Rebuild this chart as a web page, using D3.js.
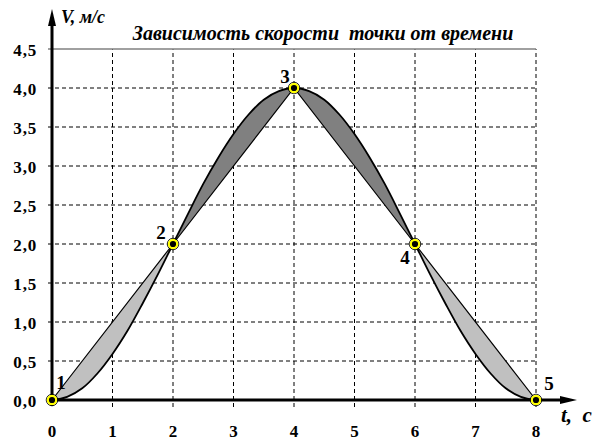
<!DOCTYPE html>
<html>
<head>
<meta charset="utf-8">
<script src="https://cdn.jsdelivr.net/npm/d3@7"></script>
<style>
  body { margin: 0; background: #fff; }
  #graf { position: relative; width: 603px; height: 447px; }
  .rotulo { position: absolute; font-family: 'Liberation Serif', serif; font-weight: bold;
            font-style: italic; white-space: pre; line-height: 1; }
</style>
</head>
<body>
<div id="graf"></div>
<script>
// I. Datos
tiempos   = [0, 0.25, 0.5, 0.75, 1, 1.25, 1.5, 1.75, 2, 2.25, 2.5, 2.75, 3, 3.25, 3.5, 3.75, 4,
             4.25, 4.5, 4.75, 5, 5.25, 5.5, 5.75, 6, 6.25, 6.5, 6.75, 7, 7.25, 7.5, 7.75, 8]
velocidad = [0, 0.04, 0.15, 0.34, 0.59, 0.89, 1.24, 1.61, 2, 2.39, 2.77, 3.11, 3.41, 3.66, 3.85, 3.96, 4,
             3.96, 3.85, 3.66, 3.41, 3.11, 2.77, 2.39, 2, 1.61, 1.24, 0.89, 0.59, 0.34, 0.15, 0.04, 0]
puntosT   = [0, 2, 4, 6, 8]
puntosV   = [0, 2, 4, 2, 0]
etiquetas = ['1', '2', '3', '4', '5']
ticksX    = [0, 1, 2, 3, 4, 5, 6, 7, 8]
ticksY    = [0, 0.5, 1, 1.5, 2, 2.5, 3, 3.5, 4, 4.5]
rellenos  = ['#c0c0c0', '#808080', '#808080', '#c0c0c0']

fuente = 'Liberation Serif'

// II. Configuración
ancho_total = 603
alto_total = 447

graf = d3.select('#graf')
svg = graf.append('svg')
        .attr('width', ancho_total)
        .attr('height', alto_total)

x = d3.scaleLinear().domain([0, 8]).range([52, 536])
y = d3.scaleLinear().domain([0, 4.5]).range([400, 49])

function texto(sel, tam, cursiva) {
  return sel.attr('font-family', fuente)
            .attr('font-weight', 'bold')
            .attr('font-style', cursiva ? 'italic' : 'normal')
            .attr('font-size', tam)
}

// III. Rejilla
svg.selectAll('.vgrid')
   .data(ticksX.slice(1))
   .enter().append('line')
     .attr('x1', d => x(d)).attr('x2', d => x(d))
     .attr('y1', y(0) + 7).attr('y2', y(4.5))
     .attr('stroke', '#000').attr('stroke-width', 1)
     .attr('stroke-dasharray', '4,3')

svg.selectAll('.hgrid')
   .data(ticksY.slice(1, -1))
   .enter().append('line')
     .attr('x1', x(0) - 4).attr('x2', x(8))
     .attr('y1', d => y(d)).attr('y2', d => y(d))
     .attr('stroke', '#000').attr('stroke-width', 1)
     .attr('stroke-dasharray', '4,3')

svg.append('line')
   .attr('x1', x(0) - 4).attr('x2', x(8))
   .attr('y1', y(4.5)).attr('y2', y(4.5))
   .attr('stroke', '#808080').attr('stroke-width', 1.5)

// IV. Zonas entre cuerda y curva
datos = tiempos.map((t, i) => ({ t: t, v: velocidad[i] }))
curva = d3.line().x(d => x(d.t)).y(d => y(d.v)).curve(d3.curveCatmullRom)

rellenos.forEach((c, i) => {
  tramo = datos.filter(d => d.t >= puntosT[i] && d.t <= puntosT[i + 1])
  svg.append('path')
     .attr('d', curva(tramo) + 'Z')
     .attr('fill', c)
     .attr('stroke', 'none')
})

// cuerdas
cuerda = d3.line().x((d, i) => x(d)).y((d, i) => y(puntosV[i]))
svg.append('path')
   .attr('d', cuerda(puntosT))
   .attr('fill', 'none')
   .attr('stroke', '#000')
   .attr('stroke-width', 1.2)

// curva de velocidad
svg.append('path')
   .attr('d', curva(datos))
   .attr('fill', 'none')
   .attr('stroke', '#000')
   .attr('stroke-width', 1.8)

// V. Ejes
svg.append('line')
   .attr('x1', x(0)).attr('x2', x(0))
   .attr('y1', y(0) + 6).attr('y2', 22)
   .attr('stroke', '#000').attr('stroke-width', 3)
svg.append('path')
   .attr('d', `M${x(0)},9 L${x(0) - 4},26 L${x(0) + 4},26 Z`)
   .attr('fill', '#000')

svg.append('line')
   .attr('x1', x(0)).attr('x2', 564)
   .attr('y1', y(0)).attr('y2', y(0))
   .attr('stroke', '#000').attr('stroke-width', 3)
svg.append('path')
   .attr('d', `M577,${y(0)} L560,${y(0) - 4} L560,${y(0) + 4} Z`)
   .attr('fill', '#000')

svg.selectAll('.ylab')
   .data(ticksY)
   .enter().append('text')
     .attr('x', 37)
     .attr('y', d => y(d) + 6.5)
     .attr('text-anchor', 'end')
     .call(texto, 17)
     .attr('letter-spacing', 0.8)
     .text(d => d3.format('.1f')(d).replace('.', ','))

svg.selectAll('.xlab')
   .data(ticksX)
   .enter().append('text')
     .attr('x', d => x(d))
     .attr('y', 437)
     .attr('text-anchor', 'middle')
     .call(texto, 17)
     .text(d => d)

// VI. Puntos
svg.selectAll('.pto')
   .data(puntosT)
   .enter().append('circle')
     .attr('cx', d => x(d))
     .attr('cy', (d, i) => y(puntosV[i]))
     .attr('r', 4.2)
     .attr('fill', '#000')
     .attr('stroke', '#ffff00')
     .attr('stroke-width', 2.2)

svg.selectAll('.anillo')
   .data(puntosT)
   .enter().append('circle')
     .attr('cx', d => x(d))
     .attr('cy', (d, i) => y(puntosV[i]))
     .attr('r', 5.8)
     .attr('fill', 'none')
     .attr('stroke', '#000')
     .attr('stroke-width', 0.8)

desplaz = [[9, -11], [-12, -5], [-9, -5], [-10, 20], [13, -10]]
svg.selectAll('.etq')
   .data(etiquetas)
   .enter().append('text')
     .attr('x', (d, i) => x(puntosT[i]) + desplaz[i][0])
     .attr('y', (d, i) => y(puntosV[i]) + desplaz[i][1])
     .attr('text-anchor', 'middle')
     .call(texto, 19)
     .text(d => d)

// VII. Títulos (en HTML, encima del svg)
graf.append('div')
    .attr('class', 'rotulo')
    .style('left', '0px').style('width', '646px')
    .style('text-align', 'center')
    .style('top', '23px')
    .style('font-size', '20px')
    .text('Зависимость скорости  точки от времени')

graf.append('div')
    .attr('class', 'rotulo')
    .style('left', '61px')
    .style('top', '8px')
    .style('font-size', '18px')
    .text('V, м/с')

graf.append('div')
    .attr('class', 'rotulo')
    .style('left', '561px')
    .style('top', '405px')
    .style('font-size', '21px')
    .text('t,  с')
</script>
</body>
</html>
